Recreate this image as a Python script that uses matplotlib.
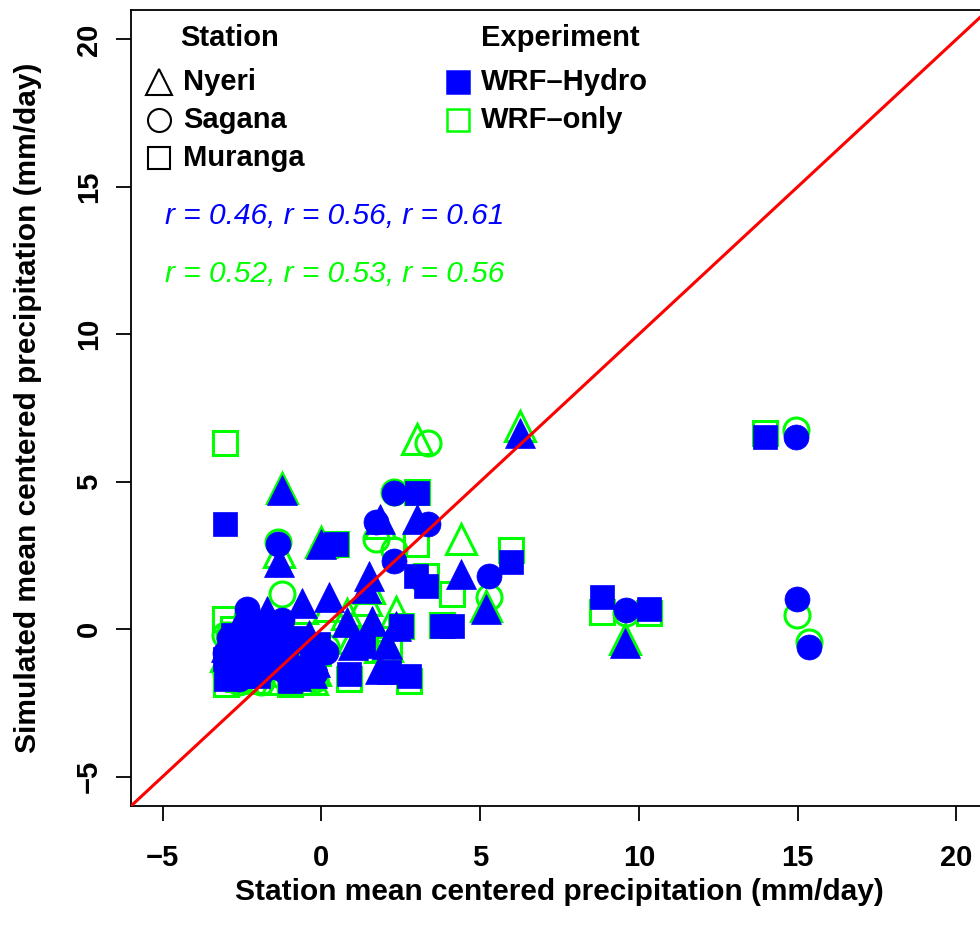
import matplotlib
matplotlib.use("Agg")
import matplotlib.pyplot as plt

plt.rcParams['font.family'] = ['Liberation Sans', 'DejaVu Sans']

# Station-mean-centred precipitation (mm/day): observed, WRF-Hydro, WRF-only
nyeri_obs = [6.25, 3.00, -1.23, -1.35, 0.00, 4.40, 5.20, 9.57, 1.83, 1.50, 0.79, 1.60,
             2.36, 0.25, -0.60, 1.83, 2.05, 1.40, -1.70, -2.20, -2.80, -1.00, -0.40,
             -2.50, -1.40, -0.80, -3.00, -1.90, -0.20, 1.00, -2.60, -1.10, -0.30]
nyeri_hydro = [6.66, 3.72, 4.73, 2.26, 2.90, 1.86, 0.68, -0.47, 3.72, 1.79, 0.24, 0.27,
               0.10, 1.10, 0.90, -1.35, -0.50, 1.40, 0.60, -0.30, -1.00, -0.80, -0.20,
               -1.50, -1.20, -1.60, -0.60, 0.00, -1.10, -0.55, 0.20, -0.10, -1.50]
nyeri_only = [6.90, 6.45, 4.80, 2.60, 2.95, 3.04, 0.80, -0.34, 3.60, 1.40, 0.50, 0.10,
              0.57, 0.80, 0.70, -0.60, -0.57, 1.00, 0.20, -0.50, -1.20, -1.00, -0.60,
              -1.60, -1.70, -1.50, -0.90, -0.30, -1.40, -0.30, 0.00, -0.40, -1.70]

sagana_obs = [14.96, 9.60, 14.99, 15.36, 2.30, 3.37, 5.29, -1.38, -1.23, 2.30, 1.73,
              -2.36, -2.90, -2.00, -1.20, -0.60, -2.60, -1.60, -0.90, -3.00, -2.20,
              -1.50, -0.20, -2.70, 0.15, -3.05, -1.90, -0.40, -2.40]
sagana_hydro = [6.52, 0.64, 1.01, -0.61, 4.63, 3.55, 1.79, 2.87, 0.30, 2.30, 3.65,
                0.68, -0.30, -1.00, -1.40, -0.40, -1.70, -0.20, -1.70, -1.20, 0.10,
                -0.60, -1.50, -0.60, -0.78, -0.80, -1.50, -1.20, -1.10]
sagana_only = [6.76, 0.55, 0.47, -0.44, 4.65, 6.32, 1.08, 2.95, 1.20, 2.70, 3.04,
               0.40, -0.20, -1.10, -1.60, -0.90, -1.80, -0.50, -1.80, -1.50, -0.10,
               -0.90, -1.70, -0.90, -0.60, -0.20, -1.80, -1.40, -1.30]

muranga_obs = [13.98, 8.85, 10.33, -3.05, 3.02, 0.47, 5.98, 4.12, 3.30, 2.99, 3.80,
               0.88, 2.77, 2.14, 1.30, 2.50, -3.05, -2.60, -2.00, -1.40, -0.80, -0.30,
               -3.00, -2.30, -1.00, -1.70, -0.10, -2.80, -2.00, -0.60, -1.20]
muranga_hydro = [6.52, 1.08, 0.68, 3.55, 4.63, 2.87, 2.26, 0.10, 1.45, 1.79, 0.10,
                 -1.52, -1.59, -1.45, -0.57, 0.12, -1.00, -0.50, -1.60, -0.90, -0.30,
                 -1.20, -1.70, -1.30, -1.75, -0.20, -0.50, -0.20, -0.70, -1.50, -0.40]
muranga_only = [6.65, 0.57, 0.54, 6.32, 4.65, 2.90, 2.70, 1.18, 1.80, 2.90, 0.15,
                -1.70, -1.75, -0.68, -0.30, 0.12, 0.34, -0.70, -1.75, -1.10, -0.50,
                -1.60, -1.85, -1.50, -1.85, -0.10, -0.80, 0.00, -0.90, -1.80, -0.60]

stations = ["Nyeri", "Sagana", "Muranga"]
experiments = ["WRF\u2013Hydro", "WRF\u2013only"]
r_hydro = [0.46, 0.56, 0.61]
r_only = [0.52, 0.53, 0.56]

BLUE = "#0000FF"
GREEN = "#00FF00"
markers = {"Nyeri": ("^", 21), "Sagana": ("o", 18), "Muranga": ("s", 17)}
data = {
    "Nyeri": (nyeri_obs, nyeri_hydro, nyeri_only),
    "Sagana": (sagana_obs, sagana_hydro, sagana_only),
    "Muranga": (muranga_obs, muranga_hydro, muranga_only),
}

fig = plt.figure(figsize=(9.8, 9.32), dpi=100)
ax = fig.add_axes([131 / 980, 126 / 932, 857 / 980, 796 / 932])
ax.set_xlim(-6, 21)
ax.set_ylim(-6, 21)

# 1:1 reference line
ax.plot([-6, 21], [-6, 21], color="red", lw=2.2, zorder=5)

# WRF-only (open green) underneath, WRF-Hydro (filled blue) on top
for st in stations:
    obs, hyd, only = data[st]
    m, ms = markers[st]
    ax.plot(obs, only, linestyle="none", marker=m, ms=ms, mfc="none",
            mec=GREEN, mew=2.2, zorder=3)
for st in stations:
    obs, hyd, only = data[st]
    m, ms = markers[st]
    ax.plot(obs, hyd, linestyle="none", marker=m, ms=ms, mfc=BLUE,
            mec=BLUE, mew=0.5, zorder=4)

for s in ax.spines.values():
    s.set_linewidth(1.3)
ax.set_xticks([-5, 0, 5, 10, 15, 20])
ax.set_yticks([-5, 0, 5, 10, 15, 20])
ax.tick_params(direction="out", length=11, width=1.3, labelsize=21)
ax.tick_params(axis="x", pad=16)
ax.tick_params(axis="y", pad=9)
for lab in ax.get_xticklabels():
    lab.set_fontweight("bold")
for lab in ax.get_yticklabels():
    lab.set_fontweight("bold")
    lab.set_rotation(90)
    lab.set_va("center")

ax.set_xlabel("Station mean centered precipitation (mm/day)", fontsize=21.5,
              fontweight="bold", labelpad=5)
ax.set_ylabel("Simulated mean centered precipitation (mm/day)", fontsize=21.5,
              fontweight="bold", labelpad=24)

# Legend blocks drawn in axes coordinates
def to_ax(px, py):
    return ((px - 131) / 857, (806 - py) / 796)

lfs = 21
ax.text(*to_ax(230, 38), "Station", transform=ax.transAxes, fontsize=lfs,
        fontweight="bold", ha="center", va="center")
ax.text(*to_ax(560, 38), "Experiment", transform=ax.transAxes, fontsize=lfs,
        fontweight="bold", ha="center", va="center")
for i, st in enumerate(stations):
    y = 82 + i * 38
    m, ms = markers[st]
    ax.plot(*to_ax(159, y), marker=m, ms=ms * 0.92, mfc="none", mec="black",
            mew=1.5, transform=ax.transAxes, clip_on=False)
    ax.text(*to_ax(183, y), st, transform=ax.transAxes, fontsize=lfs,
            fontweight="bold", ha="left", va="center")
for i, (ex, fc, ec) in enumerate(zip(experiments, [BLUE, "none"], [BLUE, GREEN])):
    y = 82 + i * 38
    ax.plot(*to_ax(458, y), marker="s", ms=16, mfc=fc, mec=ec, mew=1.8,
            transform=ax.transAxes, clip_on=False)
    ax.text(*to_ax(481, y), ex, transform=ax.transAxes, fontsize=lfs,
            fontweight="bold", ha="left", va="center")

r_fs = 21.5
ax.text(*to_ax(165, 216), ", ".join(f"r = {v:.2f}" for v in r_hydro),
        transform=ax.transAxes, fontsize=r_fs, style="italic", color=BLUE,
        ha="left", va="center")
ax.text(*to_ax(165, 274), ", ".join(f"r = {v:.2f}" for v in r_only),
        transform=ax.transAxes, fontsize=r_fs, style="italic", color=GREEN,
        ha="left", va="center")

fig.savefig("out.png", dpi=100)
